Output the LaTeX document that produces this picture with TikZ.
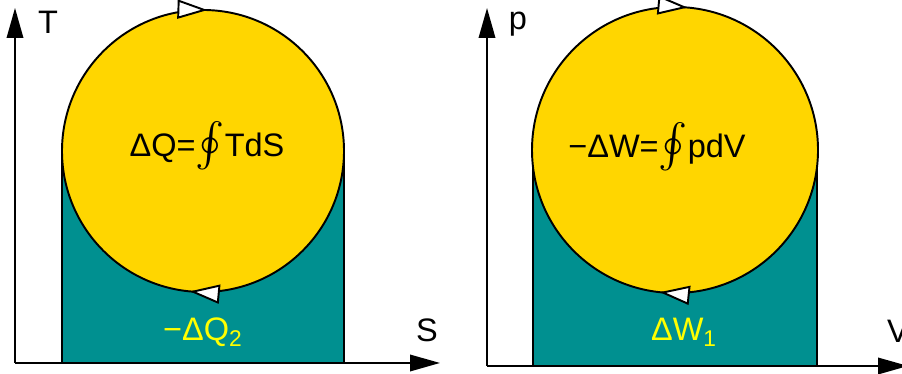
\documentclass[tikz,border=0pt]{standalone}
\usepackage{exscale}
\usepackage{fontspec}
\setmainfont{Liberation Sans}
\usepackage{tikz}
\usetikzlibrary{arrows.meta, decorations.markings, positioning}
\definecolor{cycleyellow}{RGB}{255,214,0}
\definecolor{areateal}{RGB}{0,144,144}
\definecolor{labelyellow}{RGB}{255,255,0}
\newcommand{\loopint}{{\fontsize{24}{24}\selectfont$\oint$}}

\begin{document}
\begin{tikzpicture}[x=0.02cm, y=0.02cm, line width=1.1pt,
        axis/.style={-{Triangle[length=0.6cm,width=0.33cm]}},
        area/.style={draw, fill=areateal},
        cycle/.style 2 args={draw, fill=cycleyellow, postaction={decorate},
            decoration={markings,
                mark=at position #1 with {\arrowreversed{Triangle[length=0.6cm,width=0.38cm,fill=white]}},
                mark=at position #2 with {\arrowreversed{Triangle[length=0.6cm,width=0.38cm,fill=white]}}}},
        lbl/.style={font=\fontsize{18.5}{22}\selectfont, inner sep=0pt}]
        \useasboundingbox (0,0) rectangle (902,374);

        % T-S diagram
        \coordinate (oS) at (15,11);
        \coordinate (tS) at (15,366);
        \coordinate (sS) at (440,11);
        \draw[area] (62,11) rectangle (344,223);
        \draw[cycle={0.245}{0.735}] (203,223) circle (141);
        \draw[axis] (oS) -- (tS);
        \draw[axis] (oS) -- (sS);
        \node[lbl] (T) at (48,352) {T};
        \node[lbl] (S) at (427,44) {S};
        \node[lbl, anchor=base] (heat) at (207,217) {ΔQ=\loopint TdS};
        \node[lbl, anchor=base, text=labelyellow] (heat2) at (203,33) {−ΔQ\textsubscript{2}};

        % p-V diagram
        \coordinate (oV) at (487,8);
        \coordinate (tV) at (487,366);
        \coordinate (sV) at (908,8);
        \draw[area] (533,8) rectangle (817,224);
        \draw[cycle={0.236}{0.733}] (675,224) circle (143);
        \draw[axis] (oV) -- (tV);
        \draw[axis] (oV) -- (sV);
        \node[lbl] (p) at (518,350) {p};
        \node[lbl] (V) at (898,43) {V};
        \node[lbl, anchor=base] (work) at (657,216) {−ΔW=\loopint pdV};
        \node[lbl, anchor=base, text=labelyellow] (work1) at (684,33) {ΔW\textsubscript{1}};
\end{tikzpicture}
\end{document}
